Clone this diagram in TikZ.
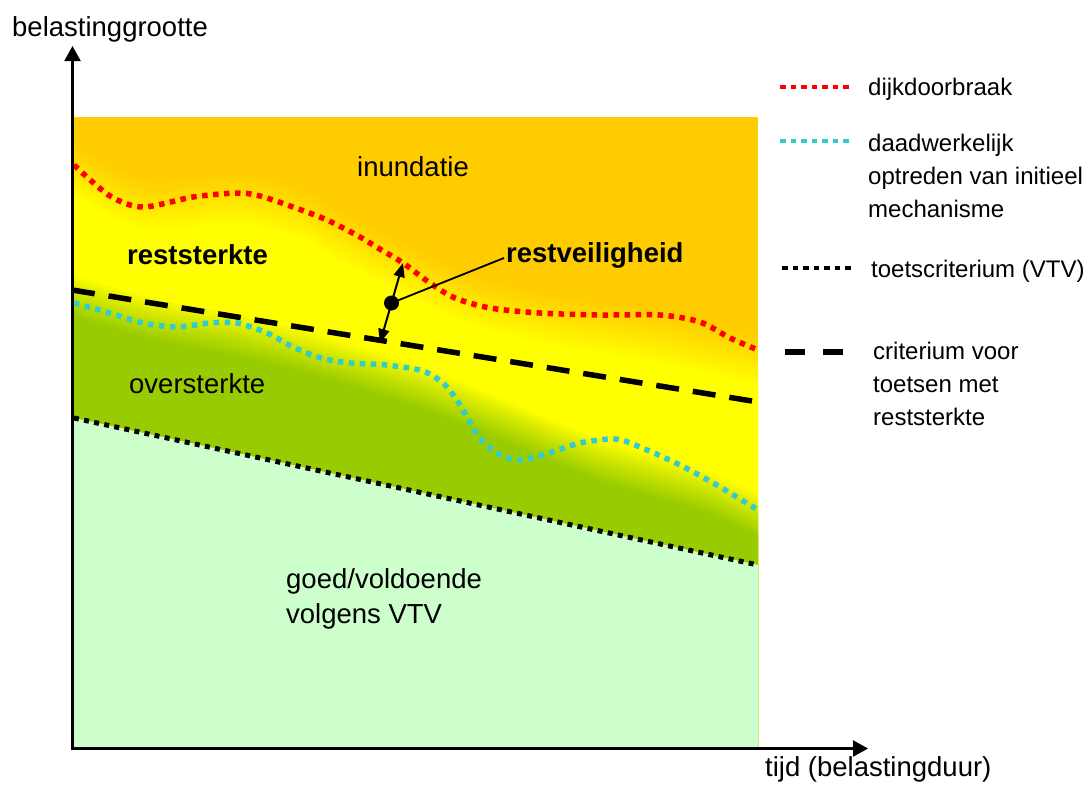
\documentclass[tikz,border=0pt]{standalone}
\usepackage{fontspec}
\setmainfont{Liberation Sans}
\usetikzlibrary{arrows.meta}

\definecolor{orangezone}{RGB}{255,204,0}
\definecolor{yellowzone}{RGB}{255,255,0}
\definecolor{greenzone}{RGB}{153,204,0}
\definecolor{safezone}{RGB}{204,255,204}
\definecolor{breachred}{RGB}{255,0,0}
\definecolor{mechcyan}{RGB}{51,204,204}

\tikzset{
  lbl/.style={font=\fontsize{27.5}{33}\selectfont, inner sep=0pt, anchor=base west},
  lblbold/.style={lbl, font=\fontsize{27.5}{33}\selectfont\bfseries},
  leg/.style={font=\fontsize{24}{32}\selectfont, inner sep=0pt, anchor=base west},
  axis/.style={line width=2.2pt, -{Triangle[length=15pt,width=16pt]}},
  breach/.style={breachred, line width=5.5pt, dash pattern=on 5.5pt off 5.5pt},
  mech/.style={mechcyan, line width=5.5pt, dash pattern=on 5.5pt off 5.5pt},
  vtv/.style={black, line width=5pt, dash pattern=on 5pt off 5.3pt},
  residual/.style={black, line width=5.5pt, dash pattern=on 23pt off 14pt},
  legbreach/.style={breachred, line width=4.5pt, dash pattern=on 5.5pt off 5pt},
  legmech/.style={mechcyan, line width=4.5pt, dash pattern=on 5.5pt off 5pt},
  legvtv/.style={black, line width=4.5pt, dash pattern=on 5.5pt off 5pt},
  legresidual/.style={black, line width=5.5pt, dash pattern=on 20pt off 18pt},
  gap/.style={line width=2pt, {Triangle[length=14pt,width=11pt]}-{Triangle[length=14pt,width=11pt]}}
}

\begin{document}
\begin{tikzpicture}[x=1pt, y=-1pt]
\useasboundingbox (0,0) rectangle (1085,785);

% coloured zones with soft transitions
\begin{scope}
  \clip (74,117) rectangle (758,747);
  \fill[orangezone] (74,117) rectangle (758,747);
  % orange -> yellow, built from stacked translucent layers
  \foreach \k in {1,...,18} {
    \pgfmathsetmacro{\op}{1/(19-\k)}
    \pgfmathsetmacro{\dy}{-28+56*(\k-0.5)/18}
    \fill[yellowzone, opacity=\op, shift={(0,\dy)}]
      plot[smooth] coordinates {(66,166) (74,170) (145,203) (238,198) (300,212) (340,235) (400,265) (470,298) (550,318) (650,335) (758,358) (766,362)}
      -- (766,900) -- (66,900) -- cycle;
  }
  % yellow -> green
  \foreach \k in {1,...,16} {
    \pgfmathsetmacro{\op}{1/(17-\k)}
    \pgfmathsetmacro{\dy}{-22+44*(\k-0.5)/16}
    \fill[greenzone, opacity=\op, shift={(0,\dy)}]
      plot[smooth] coordinates {(66,293) (74,296) (150,318) (246,337) (340,362) (433,392) (526,430) (600,460) (700,490) (758,515) (766,519)}
      -- (766,900) -- (66,900) -- cycle;
  }
  % region that satisfies the VTV criterion
  \fill[safezone] (74,418) -- (758,565) -- (758,760) -- (74,760) -- cycle;
\end{scope}

% limit curves
\draw[breach] plot[smooth] coordinates {(74,165) (110,196) (143,207) (193,197) (237,193) (260,196) (293,207) (327,220) (360,237) (378,248) (403,263) (430,283) (455,298) (490,308) (540,313) (600,315) (660,315) (700,322) (730,338) (758,350)};
\draw[mech] plot[smooth] coordinates {(74,303) (110,313) (143,323) (177,327) (210,323) (237,323) (267,333) (293,347) (321,358) (350,363) (386,365) (423,371) (445,385) (460,405) (479,437) (500,455) (520,460) (549,453) (580,443) (615,439) (640,447) (680,465) (720,487) (758,510)};
\coordinate (resA) at (72,290);
\coordinate (resB) at (758,402);
\draw[residual] (resA) -- (resB);
\coordinate (vtvA) at (74,418);
\coordinate (vtvB) at (758,565);
\draw[vtv] (vtvA) -- (vtvB);

% axes
\coordinate (origin) at (72.5,748.5);
\coordinate (ytip) at (72.5,46);
\coordinate (xtip) at (868,748.5);
\draw[axis] (72.5,749.6) -- (ytip);
\draw[axis] (71.4,748.5) -- (xtip);
\node[lbl] (ylabel) at (12,36) {belastinggrootte};
\node[lbl] (xlabel) at (765,776) {tijd (belastingduur)};

% zone labels
\node[lbl] (inund) at (357,176) {inundatie};
\node[lblbold] (rest) at (127,264) {reststerkte};
\node[lbl] (over) at (129,393) {oversterkte};
\node[lbl] (goed1) at (286,588) {goed/voldoende};
\node[lbl] (goed2) at (286,623) {volgens VTV};

% residual safety indicator
\coordinate (gapTop) at (403,263);
\coordinate (gapBot) at (380,343);
\draw[gap] (gapBot) -- (gapTop);
\node[circle, fill=black, inner sep=0pt, minimum size=15pt] (gapDot) at (391.5,303) {};
\node[lblbold] (rv) at (506,262) {restveiligheid};
\coordinate (rvEnd) at (504,258);
\draw[line width=1.8pt] (gapDot.center) -- (rvEnd);

% legend
\coordinate (l1a) at (780,87);  \coordinate (l1b) at (849,87);
\coordinate (l2a) at (780,141); \coordinate (l2b) at (851,141);
\coordinate (l3a) at (782,268); \coordinate (l3b) at (851,268);
\coordinate (l4a) at (785,352); \coordinate (l4b) at (843,352);
\draw[legbreach] (l1a) -- (l1b);
\draw[legmech] (l2a) -- (l2b);
\draw[legvtv] (l3a) -- (l3b);
\draw[legresidual] (l4a) -- (l4b);
\node[leg] (t1) at (868,95) {dijkdoorbraak};
\node[leg] (t2a) at (868,151) {daadwerkelijk};
\node[leg] (t2b) at (868,184) {optreden van initieel};
\node[leg] (t2c) at (868,217) {mechanisme};
\node[leg] (t3) at (871,277) {toetscriterium (VTV)};
\node[leg] (t4a) at (873,359) {criterium voor};
\node[leg] (t4b) at (873,392) {toetsen met};
\node[leg] (t4c) at (873,425) {reststerkte};
\end{tikzpicture}
\end{document}
